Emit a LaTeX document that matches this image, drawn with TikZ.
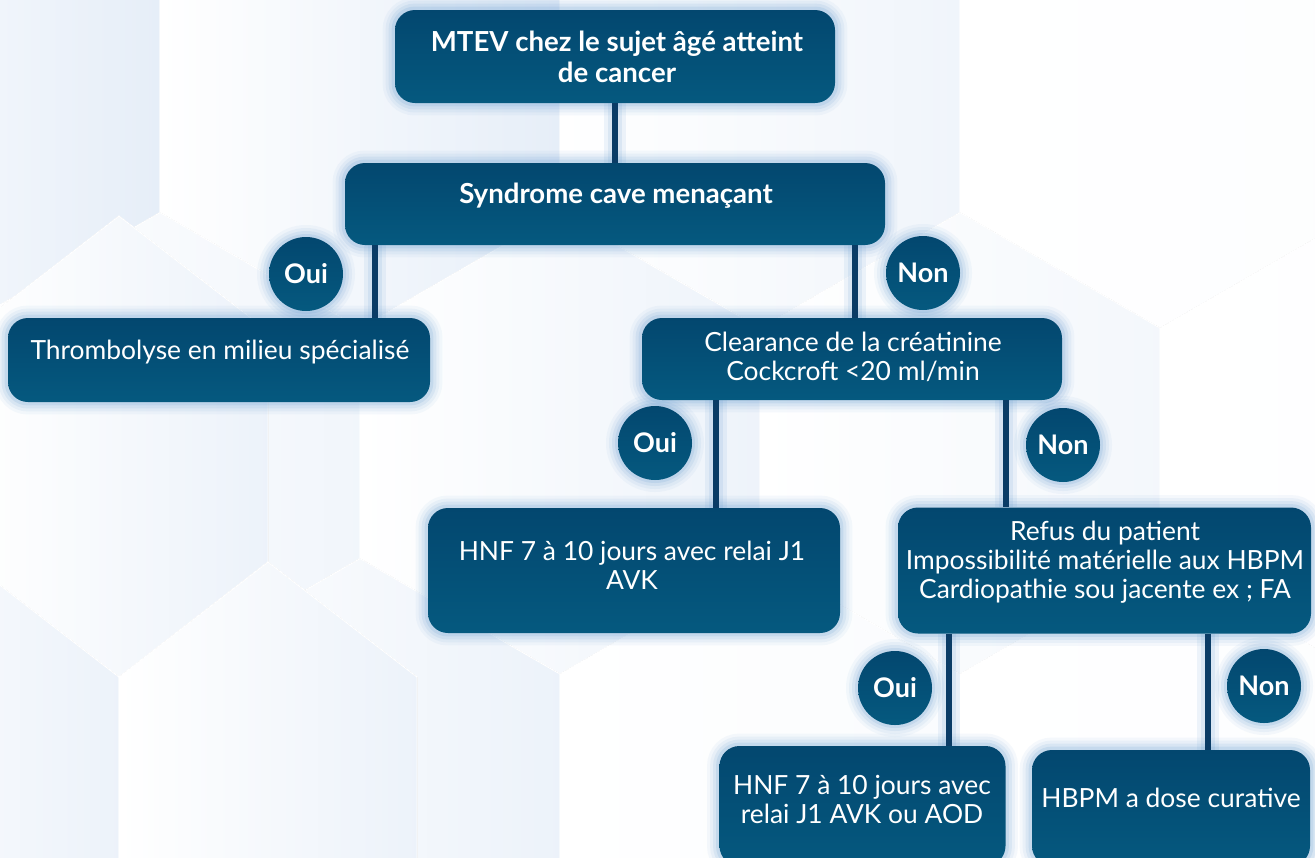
\documentclass[tikz,border=0pt]{standalone}
\usepackage{fontspec}
\setmainfont{Lato}
\usetikzlibrary{calc}

\definecolor{boxA}{HTML}{03476F}
\definecolor{boxB}{HTML}{05597F}
\definecolor{linec}{HTML}{0A3C66}
\definecolor{glowc}{HTML}{5E97CF}
\definecolor{hexc}{HTML}{E6EEF8}
\definecolor{bgc}{HTML}{FCFDFF}

\pgfdeclarelayer{bg}
\pgfdeclarelayer{glow}
\pgfsetlayers{bg,glow,main}

% hexagonal panel: centre x, centre y, half width, half vertical edge, tip rise, tint
\newcommand\hexcell[6]{%
  \fill[left color=white, right color=hexc!#6!white, draw=white, line width=0.5pt]
    (#1,{#2-#4-#5}) -- ({#1+#3},{#2-#4}) -- ({#1+#3},{#2+#4}) --
    (#1,{#2+#4+#5}) -- ({#1-#3},{#2+#4}) -- ({#1-#3},{#2-#4}) -- cycle;}

% soft halo round a rounded box
\newcommand\boxglow[1]{%
  \begin{pgfonlayer}{glow}
    \foreach \w/\o in {12/0.06,9/0.08,6/0.11,3/0.15}{%
      \draw[glowc, opacity=\o, line width=\w pt, rounded corners=10pt]
        (#1.south west) rectangle (#1.north east);}
  \end{pgfonlayer}}

% soft halo round a round badge
\newcommand\dotglow[1]{%
  \begin{pgfonlayer}{glow}
    \foreach \w/\o in {12/0.06,9/0.08,6/0.11,3/0.15}{%
      \draw[glowc, opacity=\o, line width=\w pt] (#1.center) circle[radius=18.5pt];}
  \end{pgfonlayer}}

\begin{document}
\begin{tikzpicture}[x=0.5pt, y=-0.5pt,
  box/.style={rectangle, rounded corners=10pt, top color=boxA, bottom color=boxB,
              draw=none, inner sep=0pt},
  badge/.style={circle, top color=boxA, bottom color=boxB, minimum size=37pt,
                inner sep=0pt, text=white, font=\bfseries\fontsize{13.5}{15}\selectfont},
  txt/.style={text=white, align=center, inner sep=0pt,
              font=\fontsize{13.2}{14.5}\selectfont},
  ttl/.style={text=white, align=center, inner sep=0pt,
              font=\bfseries\fontsize{13.8}{15.5}\selectfont},
  link/.style={draw=linec, line width=3pt,
               preaction={draw=glowc, opacity=0.10, line width=11pt},
               preaction={draw=glowc, opacity=0.12, line width=7pt}},
]
\useasboundingbox (0,0) rectangle (1315,857);
\clip (0,0) rectangle (1315,857);

% ---- background honeycomb ----
\begin{pgfonlayer}{bg}
  \fill[bgc] (0,0) rectangle (1315,857);
  \hexcell{-40}{97.5}{200}{115.5}{115.5}{100}
  \hexcell{360}{97.5}{200}{115.5}{115.5}{100}
  \hexcell{760}{97.5}{200}{115.5}{115.5}{60}
  \hexcell{1160}{97.5}{200}{115.5}{115.5}{10}
  \hexcell{160}{443.5}{200}{115.5}{115.5}{55}
  \hexcell{560}{443.5}{200}{115.5}{115.5}{70}
  \hexcell{960}{443.5}{200}{115.5}{115.5}{45}
  \hexcell{1360}{443.5}{200}{115.5}{115.5}{10}
  \hexcell{-40}{789.5}{200}{115.5}{115.5}{75}
  \hexcell{360}{789.5}{200}{115.5}{115.5}{75}
  \hexcell{760}{789.5}{200}{115.5}{115.5}{20}
  \hexcell{1160}{789.5}{200}{115.5}{115.5}{10}
  % smaller cells, lower left
  \hexcell{119}{446.5}{149}{115.5}{115}{75}
  \hexcell{-30}{792.5}{149}{115.5}{115}{75}
  \hexcell{268}{792.5}{149}{115.5}{115}{75}
\end{pgfonlayer}

% ---- boxes ----
\node[box, minimum width=220pt, minimum height=46.5pt] (top)  at (615,56.5) {};
\node[box, minimum width=270pt, minimum height=41pt]   (syn)  at (615,204)  {};
\node[box, minimum width=211pt, minimum height=42pt]   (thr)  at (219,360)  {};
\node[box, minimum width=210pt, minimum height=41pt]   (clr)  at (852,359)  {};
\node[box, minimum width=206pt, minimum height=62.5pt] (hnfa) at (634,570.5) {};
\node[box, minimum width=206.5pt, minimum height=63pt] (ref)  at (1104.5,570.5) {};
\node[box, minimum width=143pt, minimum height=60pt]   (hnfb) at (862.5,806) {};
\node[box, minimum width=139pt, minimum height=58pt]   (hbpm) at (1171,808) {};

\foreach \n in {top,syn,thr,clr,hnfa,ref,hnfb,hbpm}{\boxglow{\n}}

% ---- box texts ----
\node[ttl] (top-t)  at (617,57)    {MTEV chez le sujet âgé atteint\\de cancer};
\node[ttl] (syn-t)  at (616,196)   {Syndrome cave menaçant};
\node[txt] (thr-t)  at (220,352)   {Thrombolyse en milieu spécialisé};
\node[txt] (clr-t)  at (853,356.5) {Clearance de la créatinine\\Cockcroft <20 ml/min};
\node[txt] (hnfa-t) at (632,565.5) {HNF 7 à 10 jours avec relai J1\\AVK};
\node[txt] (ref-t)  at (1105,562)  {Refus du patient\\Impossibilité matérielle aux HBPM\\Cardiopathie sou jacente ex ; FA};
\node[txt] (hnfb-t) at (862,799.5) {HNF 7 à 10 jours avec\\relai J1 AVK ou AOD};
\node[txt] (hbpm-t) at (1171,798)  {HBPM a dose curative};

% ---- yes / no badges ----
\node[badge] (oui1) at (306,274) {Oui};
\node[badge] (non1) at (923,273) {Non};
\node[badge] (oui2) at (655,443) {Oui};
\node[badge] (non2) at (1063,445) {Non};
\node[badge] (oui3) at (895,688) {Oui};
\node[badge] (non3) at (1264,686) {Non};
\foreach \n in {oui1,non1,oui2,non2,oui3,non3}{\dotglow{\n}}

% ---- connectors ----
\coordinate (k1) at (375,0);
\coordinate (k2) at (855,0);
\coordinate (k3) at (716,0);
\coordinate (k4) at (1006,0);
\coordinate (k5) at (949,0);
\coordinate (k6) at (1208,0);

\draw[link] (top.south) -- (syn.north);
\draw[link] (syn.south -| k1) -- (thr.north -| k1);
\draw[link] (syn.south -| k2) -- (clr.north -| k2);
\draw[link] (clr.south -| k3) -- (hnfa.north -| k3);
\draw[link] (clr.south -| k4) -- (ref.north -| k4);
\draw[link] (ref.south -| k5) -- (hnfb.north -| k5);
\draw[link] (ref.south -| k6) -- (hbpm.north -| k6);
\end{tikzpicture}
\end{document}
